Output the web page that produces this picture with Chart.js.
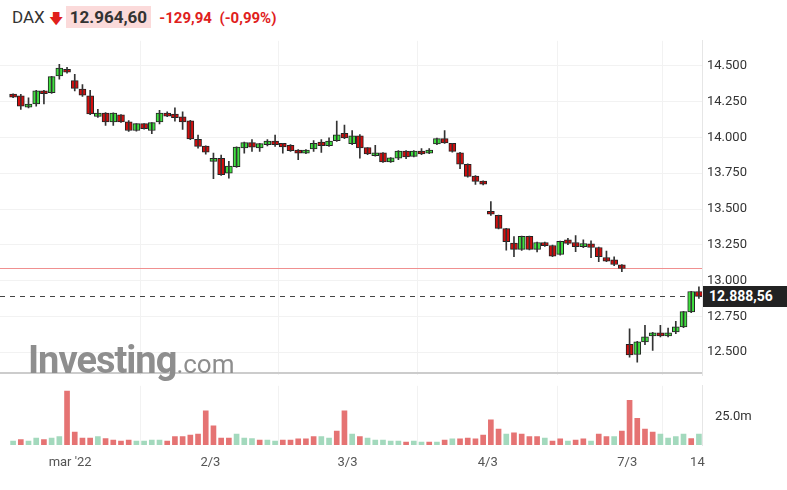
<!DOCTYPE html>
<html>
<head>
<meta charset="utf-8">
<script src="https://cdn.jsdelivr.net/npm/chart.js@4.4.0/dist/chart.umd.min.js"></script>
<style>
  body { margin: 0; width: 787px; height: 490px; background: #fff; font-family: Roboto, sans-serif; position: relative; overflow: hidden; }
  #head { position: absolute; left: 12px; top: 7px; font-size: 17px; color: #333; white-space: nowrap; }
  #head .arrow { color: #e0201c; font-size: 14px; margin: 0 3px 0 4px; }
  #head .last { background: #fbdada; padding: 1px 4px; font-weight: bold; color: #333; }
  #head .chg { color: #e0201c; font-weight: bold; margin-left: 4px; font-size: 15px; }
  #mainWrap { position: absolute; left: 0; top: 28px; width: 787px; height: 360px; }
  #volWrap { position: absolute; left: 0; top: 373px; width: 787px; height: 117px; }
  #sep { position: absolute; left: 0; top: 372px; width: 702px; height: 2px; background: #ccc; }
  #mark { position: absolute; left: 28px; top: 338px; font-family: Roboto, sans-serif; color: #8e8e8e; font-size: 38px; font-weight: bold; letter-spacing: -1px; }
  #mark span { font-weight: normal; font-size: 26px; letter-spacing: 0; }
  #priceTag { position: absolute; left: 703px; top: 286px; width: 84px; height: 21px; background: #222; color: #fff; font-size: 14px; font-weight: bold; line-height: 21px; padding-left: 6px; box-sizing: border-box; }
</style>
</head>
<body>
<div id="head">DAX<span class="arrow">&#129095;</span><span class="last">12.964,60</span> <span class="chg">-129,94 &nbsp;(-0,99%)</span></div>
<div id="mainWrap"><canvas id="mainChart"></canvas></div>
<div id="sep"></div>
<div id="volWrap"><canvas id="volChart"></canvas></div>
<div id="mark">Investing<span>.com</span></div>
<div id="priceTag">12.888,56</div>
<script>
// Candles (hourly-ish)
const opens = [14301,14289,14212,14235,14325,14313,14430,14474,14395,14336,14289,14147,14168,14109,14156,14107,14049,14095,14049,14109,14168,14161,14142,14114,13985,13938,13833,13852,13751,13796,13927,13962,13927,13950,13973,13957,13943,13910,13891,13920,13966,13943,13978,14027,13957,14009,13927,13873,13891,13829,13856,13903,13868,13903,13891,13955,13990,13957,13891,13810,13728,13693,13482,13454,13361,13260,13218,13307,13218,13264,13243,13183,13283,13264,13236,13255,13229,13159,13143,13108,12551,12483,12570,12612,12633,12612,12640,12675,12780,12921];
const closes = [14282,14219,14231,14325,14306,14423,14484,14456,14343,14296,14165,14168,14109,14168,14109,14049,14095,14061,14102,14168,14149,14138,14109,13990,13938,13898,13852,13740,13798,13931,13962,13932,13955,13973,13950,13934,13908,13891,13910,13957,13943,13973,14016,13997,14009,13927,13885,13891,13829,13856,13903,13864,13903,13885,13910,13990,13962,13903,13814,13728,13693,13674,13463,13365,13272,13218,13307,13218,13264,13243,13171,13272,13260,13236,13257,13231,13166,13136,13112,13084,12480,12570,12605,12633,12612,12633,12675,12780,12921,12889];
const highs = [14305,14301,14277,14330,14330,14428,14512,14490,14442,14370,14329,14196,14175,14172,14160,14119,14098,14098,14105,14189,14180,14208,14180,14120,14016,13942,13891,13877,13833,13935,13968,13985,13960,13985,14016,13960,13950,13915,13915,13978,13985,13997,14114,14086,14048,14020,13930,13945,13895,13860,13908,13908,13908,13922,13922,13995,14049,13960,13896,13815,13733,13697,13552,13458,13365,13307,13310,13310,13268,13268,13248,13276,13295,13314,13285,13278,13233,13206,13166,13112,12663,12575,12687,12638,12687,12668,12715,12785,12925,12956];
const lows = [14278,14196,14207,14219,14235,14308,14407,14450,14325,14287,14160,14140,14085,14085,14105,14042,14045,14058,14026,14095,14145,14114,14056,13985,13926,13884,13712,13735,13716,13790,13891,13903,13903,13941,13938,13891,13903,13845,13887,13903,13896,13938,13973,13992,13950,13856,13880,13870,13825,13825,13845,13852,13864,13880,13887,13950,13958,13898,13782,13722,13672,13668,13455,13360,13213,13166,13210,13214,13200,13238,13166,13178,13250,13201,13230,13159,13131,13131,13103,13061,12464,12429,12551,12511,12605,12605,12628,12670,12775,12874];

// Volume in millions and its bar direction (u = up / green, d = down / red)
const volumes = [3.4,4.7,3.4,6.1,4.7,6.1,7.4,46.8,11.3,6.1,6.1,7.4,5.5,4.2,3.4,4.2,3.4,3.4,4.2,4.2,3.4,7.4,7.4,8.7,9.5,29.7,16.6,6.1,6.1,9.5,6.1,5.5,4.2,4.2,3.4,4.2,4.2,5.3,5.3,7.4,7.4,6.1,12.1,29.7,9.5,7.4,6.1,4.2,4.2,3.4,3.4,2.6,3.4,2.6,2.6,2.6,4.2,5.3,5.3,6.1,5.3,8.7,21.8,13.9,9.5,10.5,9.5,7.4,7.4,6.1,3.4,5.3,3.4,4.2,5.3,3.4,9.5,7.4,7.4,12.1,38.9,23.2,13.9,11.3,9.5,6.1,7.4,9.5,5.5,9.5];
const volDir = 'uduuduuddddudddduuuuddddddddduuuduuddddduudduduuuuuduudududddddduddddudduddudduddddduuuuduuuu'.split('');

// Day labels and where they sit on the bar index axis
const dayLabels = ["mar '22", '2/3', '3/3', '4/3', '7/3', '14'];
const dayPos = [7.4, 25.6, 43.4, 61.6, 79.7, 88.8];

const prevClose = 13089;
const lastPrice = 12888.56;

const RED = '#d40d0d';
const GREEN = '#3fe03f';
const idx = opens.map((_, i) => i);
const fmt = v => v.toLocaleString('de-DE');

Chart.defaults.font.family = 'Roboto, sans-serif';
Chart.defaults.font.size = 13;
Chart.defaults.color = '#333';

const xScale = (showTicks, h) => ({
    type: 'linear',
    min: -1.7,
    max: 89.4,
    offset: false,
    bounds: 'data',
    grid: { color: '#f2f2f2', drawTicks: false },
    border: { display: false },
    afterBuildTicks: s => { s.ticks = dayPos.map(v => ({ value: v })); },
    afterFit: s => { s.height = h; },
    ticks: {
        display: showTicks,
        padding: 10,
        color: '#555',
        callback: (v, i) => dayLabels[i]
    }
});

const levelLines = {
    id: 'levelLines',
    beforeDatasetsDraw(chart) {
        const { ctx, chartArea, scales } = chart;
        ctx.save();
        ctx.strokeStyle = '#f09090';
        ctx.lineWidth = 1;
        let y = Math.round(scales.y.getPixelForValue(prevClose)) + 0.5;
        ctx.beginPath(); ctx.moveTo(chartArea.left, y); ctx.lineTo(chartArea.right, y); ctx.stroke();
        ctx.strokeStyle = '#444';
        ctx.setLineDash([5, 5]);
        y = Math.round(scales.y.getPixelForValue(lastPrice)) + 0.5;
        ctx.beginPath(); ctx.moveTo(chartArea.left, y); ctx.lineTo(chartArea.right, y); ctx.stroke();
        ctx.restore();
    }
};

const up = i => closes[i] >= opens[i];

new Chart(document.getElementById('mainChart'), {
    type: 'bar',
    data: {
        datasets: [{
            data: idx.map(i => ({ x: i, y: [lows[i], highs[i]] })),
            backgroundColor: '#333',
            barThickness: 1,
            grouped: false
        }, {
            data: idx.map(i => ({ x: i, y: [Math.min(opens[i], closes[i]), Math.max(opens[i], closes[i]) + 2] })),
            backgroundColor: idx.map(i => up(i) ? GREEN : RED),
            borderColor: '#222',
            borderWidth: 1,
            borderSkipped: false,
            barThickness: 7,
            grouped: false
        }]
    },
    options: {
        responsive: true,
        maintainAspectRatio: false,
        animation: false,
        layout: { padding: 0 },
        plugins: { legend: { display: false }, tooltip: { enabled: false } },
        scales: {
            x: xScale(false, 0),
            y: {
                position: 'right',
                min: 12338,
                max: 14676,
                grid: { color: '#f2f2f2', drawTicks: false },
                border: { display: true, color: '#e6e6e6' },
                afterBuildTicks: s => { s.ticks = s.ticks.filter(t => t.value % 250 === 0); },
                afterFit: s => { s.width = 85; },
                ticks: { stepSize: 250, padding: 5, callback: v => fmt(v) }
            }
        }
    },
    plugins: [levelLines]
});

new Chart(document.getElementById('volChart'), {
    type: 'bar',
    data: {
        datasets: [{
            data: idx.map(i => ({ x: i, y: volumes[i] })),
            backgroundColor: idx.map(i => volDir[i] === 'u' ? '#a3d9bd' : '#e57373'),
            barThickness: 5
        }]
    },
    options: {
        responsive: true,
        maintainAspectRatio: false,
        animation: false,
        layout: { padding: { top: 2 } },
        plugins: { legend: { display: false }, tooltip: { enabled: false } },
        scales: {
            x: xScale(true, 45),
            y: {
                position: 'right',
                min: 0,
                max: 51.5,
                grid: { display: false },
                border: { display: true, color: '#e6e6e6' },
                afterBuildTicks: s => { s.ticks = [{ value: 25 }]; },
                afterFit: s => { s.width = 85; },
                ticks: { padding: 5, callback: v => v.toFixed(1) + 'm' }
            }
        }
    }
});
</script>
</body>
</html>
